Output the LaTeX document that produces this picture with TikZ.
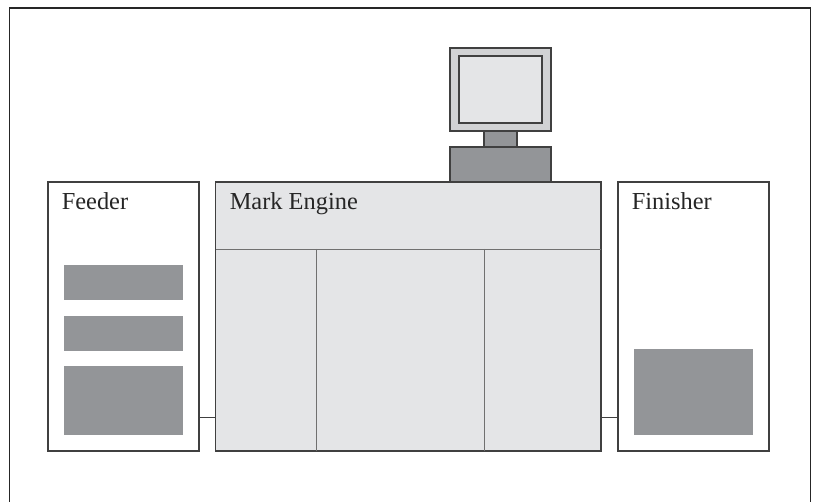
\documentclass[tikz,border=0pt]{standalone}
\usepackage{fontspec}
\setmainfont{Liberation Serif}
\definecolor{lgray}{HTML}{E4E5E7}
\definecolor{mgray}{HTML}{D1D2D4}
\definecolor{dgray}{HTML}{939598}
\definecolor{ln}{HTML}{404040}
\tikzset{
  x=0.75pt,y=-0.75pt,
  box/.style={draw=ln,line width=0.85pt,fill=#1},
  box/.default=white,
  nodebox/.style={box=#1,inner sep=0pt,outer sep=0pt,anchor=north west,minimum height=269*0.75pt},
  nodebox/.default=white,
  solid block/.style={fill=dgray},
  label text/.style={anchor=base west,inner sep=0pt,font=\fontsize{18.3}{20}\selectfont,text=black!85},
  link/.style={draw=ln,line width=1pt},
  divider/.style={draw=ln!75,line width=0.7pt}
}
\begin{document}
\begin{tikzpicture}
\useasboundingbox (0,0) rectangle (815,502);
\fill[white] (0,0) rectangle (815,502);
\draw[black!85,line width=1.1pt] (9.5,502) -- (9.5,8) -- (810.7,8) -- (810.7,502);
% monitor
\path[box=mgray] (450,48) rectangle (551,131);
\path[box=lgray] (459,56) rectangle (542,123);
\path[box=dgray] (484,131) rectangle (517,147);
\path[box=dgray] (450,147) rectangle (551,182);
% boxes
\node[nodebox,minimum width=151*0.75pt] (feeder) at (48,182) {};
\node[nodebox=lgray,minimum width=385.5*0.75pt] (engine) at (215.5,182) {};
\node[nodebox,minimum width=151*0.75pt] (finisher) at (618,182) {};
\coordinate (d1) at (316,249);
\coordinate (d2) at (484,249);
\draw[divider] (engine.west |- d1) -- (engine.east |- d1);
\draw[divider] (d1) -- (d1 |- engine.south);
\draw[divider] (d2) -- (d2 |- engine.south);
\fill[solid block] (64,265) rectangle (183,300);
\fill[solid block] (64,316) rectangle (183,351);
\fill[solid block] (64,366) rectangle (183,435);
\fill[solid block] (634,349) rectangle (753,435);
\coordinate (ly) at (0,417.5);
\draw[link] (feeder.east |- ly) -- (engine.west |- ly);
\draw[link] (engine.east |- ly) -- (finisher.west |- ly);
\node[label text] (t1) at (61.5,210) {Feeder};
\node[label text] (t2) at (229.5,210) {Mark Engine};
\node[label text] (t3) at (631.5,210) {Finisher};
\end{tikzpicture}
\end{document}
